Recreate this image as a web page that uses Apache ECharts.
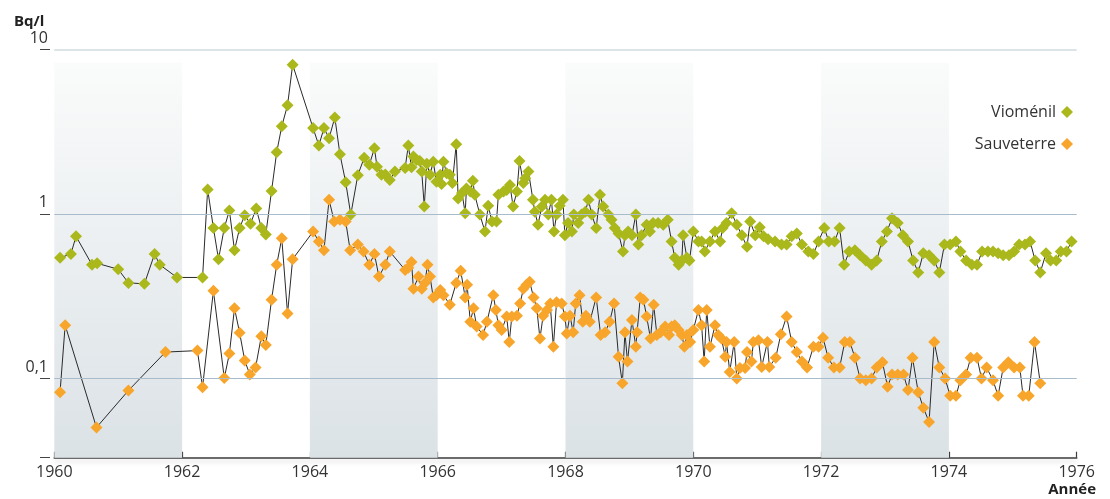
<!DOCTYPE html>
<html>
<head>
<meta charset="utf-8">
<script src="https://cdn.jsdelivr.net/npm/echarts@6/dist/echarts.min.js"></script>
<style>
  html, body { margin: 0; padding: 0; background: #fff; }
  #chart { width: 1110px; height: 499px; }
</style>
</head>
<body>
<div id="chart"></div>
<script>
// 年份刻度
var yearTicks = [1960, 1962, 1964, 1966, 1968, 1970, 1972, 1974, 1976];
var yTickLabels = ['0,1', '1', '10'];
var yTickValues = [0.1, 1, 10];

// Vioménil
var vioYears = [1960.09,1960.26,1960.34,1960.59,1960.67,1961.00,1961.16,1961.41,1961.57,1961.65,
  1961.92,1962.32,1962.40,1962.49,1962.57,1962.66,1962.74,1962.82,1962.90,1962.98,
  1963.07,1963.16,1963.24,1963.31,1963.40,1963.48,1963.56,1963.65,1963.73,1964.05,
  1964.14,1964.22,1964.30,1964.39,1964.47,1964.56,1964.64,1964.75,1964.85,1964.93,
  1965.01,1965.05,1965.12,1965.18,1965.25,1965.33,1965.49,1965.54,1965.59,1965.62,
  1965.67,1965.72,1965.75,1965.79,1965.83,1965.88,1965.93,1965.98,1966.04,1966.06,
  1966.09,1966.14,1966.19,1966.23,1966.29,1966.32,1966.38,1966.43,1966.45,1966.51,
  1966.55,1966.58,1966.66,1966.74,1966.79,1966.85,1966.92,1966.95,1967.03,1967.08,
  1967.13,1967.18,1967.24,1967.28,1967.34,1967.37,1967.42,1967.49,1967.52,1967.57,
  1967.63,1967.68,1967.73,1967.78,1967.82,1967.86,1967.91,1967.96,1967.99,1968.04,
  1968.10,1968.13,1968.20,1968.25,1968.31,1968.36,1968.41,1968.48,1968.54,1968.59,
  1968.67,1968.72,1968.77,1968.83,1968.90,1968.93,1968.98,1969.04,1969.10,1969.14,
  1969.19,1969.27,1969.32,1969.37,1969.45,1969.53,1969.60,1969.66,1969.71,1969.77,
  1969.82,1969.84,1969.90,1969.94,1970.00,1970.08,1970.13,1970.18,1970.26,1970.34,
  1970.42,1970.46,1970.52,1970.60,1970.68,1970.76,1970.84,1970.89,1970.97,1971.04,
  1971.10,1971.17,1971.28,1971.38,1971.46,1971.54,1971.62,1971.70,1971.80,1971.88,
  1971.96,1972.05,1972.12,1972.21,1972.29,1972.36,1972.44,1972.53,1972.61,1972.70,
  1972.79,1972.87,1972.95,1973.03,1973.11,1973.20,1973.28,1973.36,1973.44,1973.52,
  1973.60,1973.69,1973.77,1973.85,1973.93,1974.02,1974.11,1974.18,1974.27,1974.36,
  1974.44,1974.52,1974.61,1974.69,1974.77,1974.85,1974.94,1975.02,1975.10,1975.19,
  1975.27,1975.35,1975.43,1975.52,1975.59,1975.68,1975.75,1975.84,1975.92];
var vioValues = [0.54,0.57,0.73,0.49,0.50,0.46,0.38,0.375,0.57,0.49,
  0.41,0.41,1.41,0.82,0.53,0.82,1.05,0.60,0.82,0.98,
  0.87,1.08,0.82,0.75,1.38,2.37,3.42,4.59,8.1,3.33,
  2.61,3.33,2.89,3.87,2.31,1.56,0.99,1.72,2.20,1.99,
  2.51,1.94,1.73,1.74,1.61,1.81,1.90,2.61,1.92,2.24,
  2.13,2.10,1.81,1.11,2.02,1.73,2.08,1.57,1.73,1.52,
  2.08,1.77,1.73,1.54,2.66,1.24,1.34,1.01,1.43,1.37,
  1.59,1.31,0.99,0.78,1.12,0.90,0.90,1.31,1.37,1.40,
  1.50,1.11,1.37,2.10,1.54,1.65,1.81,1.22,1.03,0.86,
  1.11,1.22,0.99,1.22,0.78,0.99,1.12,1.22,0.74,0.88,
  0.78,0.99,0.88,0.99,1.03,1.22,0.99,0.82,1.31,1.11,
  0.99,0.92,0.82,0.76,0.59,0.74,0.78,0.74,0.99,0.65,
  0.74,0.86,0.78,0.88,0.88,0.86,0.92,0.68,0.54,0.49,
  0.52,0.74,0.54,0.52,0.78,0.68,0.68,0.59,0.68,0.78,
  0.68,0.82,0.88,1.01,0.86,0.74,0.63,0.90,0.74,0.83,
  0.73,0.70,0.68,0.65,0.65,0.73,0.76,0.65,0.59,0.57,
  0.68,0.82,0.68,0.68,0.82,0.49,0.59,0.60,0.56,0.52,
  0.49,0.52,0.68,0.78,0.94,0.88,0.74,0.68,0.52,0.44,
  0.575,0.56,0.52,0.44,0.65,0.65,0.68,0.59,0.52,0.49,
  0.49,0.59,0.59,0.59,0.575,0.56,0.56,0.59,0.65,0.65,
  0.68,0.52,0.44,0.575,0.52,0.52,0.59,0.59,0.68];

// Sauveterre
var sauYears = [1960.09,1960.17,1960.66,1961.16,1961.74,1962.24,1962.32,1962.49,1962.66,1962.74,
  1962.82,1962.90,1962.98,1963.06,1963.15,1963.24,1963.31,1963.40,1963.48,1963.56,
  1963.65,1963.73,1964.05,1964.14,1964.22,1964.30,1964.38,1964.47,1964.56,1964.63,
  1964.75,1964.84,1964.93,1965.01,1965.08,1965.18,1965.25,1965.49,1965.54,1965.59,
  1965.62,1965.70,1965.75,1965.80,1965.84,1965.88,1965.93,1965.98,1966.04,1966.09,
  1966.19,1966.29,1966.36,1966.43,1966.46,1966.51,1966.56,1966.61,1966.71,1966.77,
  1966.87,1966.91,1966.95,1967.00,1967.08,1967.12,1967.16,1967.24,1967.29,1967.34,
  1967.39,1967.44,1967.50,1967.55,1967.60,1967.65,1967.71,1967.76,1967.81,1967.86,
  1967.94,1967.99,1968.02,1968.07,1968.12,1968.16,1968.22,1968.27,1968.32,1968.38,
  1968.48,1968.55,1968.62,1968.69,1968.76,1968.83,1968.89,1968.93,1968.97,1969.04,
  1969.10,1969.12,1969.17,1969.22,1969.27,1969.33,1969.38,1969.43,1969.49,1969.56,
  1969.62,1969.66,1969.71,1969.77,1969.82,1969.86,1969.90,1969.95,1970.00,1970.08,
  1970.13,1970.17,1970.21,1970.26,1970.34,1970.39,1970.44,1970.50,1970.52,1970.57,
  1970.64,1970.68,1970.73,1970.81,1970.84,1970.91,1970.94,1971.02,1971.07,1971.16,
  1971.19,1971.29,1971.37,1971.46,1971.54,1971.62,1971.70,1971.78,1971.88,1971.96,
  1972.03,1972.11,1972.20,1972.29,1972.37,1972.45,1972.53,1972.61,1972.70,1972.79,
  1972.87,1972.96,1973.04,1973.11,1973.20,1973.29,1973.36,1973.43,1973.52,1973.60,
  1973.69,1973.77,1973.85,1973.94,1974.02,1974.11,1974.18,1974.27,1974.34,1974.44,
  1974.51,1974.59,1974.69,1974.77,1974.85,1974.93,1975.02,1975.11,1975.16,1975.25,
  1975.34,1975.43];
var sauValues = [0.082,0.21,0.050,0.084,0.144,0.147,0.088,0.34,0.10,0.141,
  0.266,0.189,0.128,0.105,0.116,0.18,0.159,0.30,0.49,0.71,
  0.247,0.53,0.78,0.68,0.60,1.22,0.90,0.92,0.90,0.60,
  0.65,0.59,0.49,0.57,0.415,0.49,0.59,0.456,0.47,0.51,
  0.35,0.415,0.35,0.38,0.49,0.415,0.31,0.32,0.344,0.32,
  0.28,0.38,0.45,0.31,0.37,0.22,0.266,0.206,0.183,0.22,
  0.32,0.26,0.21,0.196,0.237,0.166,0.237,0.24,0.285,0.35,
  0.37,0.386,0.31,0.266,0.174,0.24,0.26,0.285,0.155,0.29,
  0.285,0.237,0.187,0.24,0.19,0.285,0.32,0.22,0.24,0.22,
  0.31,0.183,0.19,0.22,0.285,0.135,0.093,0.19,0.126,0.226,
  0.155,0.19,0.31,0.30,0.237,0.174,0.28,0.183,0.19,0.206,
  0.183,0.206,0.21,0.196,0.183,0.155,0.183,0.166,0.196,0.26,
  0.21,0.126,0.26,0.155,0.21,0.183,0.174,0.135,0.166,0.109,
  0.166,0.0995,0.115,0.115,0.144,0.126,0.166,0.17,0.117,0.166,
  0.117,0.133,0.185,0.237,0.166,0.144,0.126,0.116,0.155,0.155,
  0.176,0.133,0.116,0.116,0.166,0.166,0.133,0.0995,0.097,0.0995,
  0.116,0.125,0.0885,0.105,0.105,0.105,0.0845,0.133,0.082,0.066,
  0.054,0.166,0.116,0.0995,0.078,0.078,0.097,0.105,0.133,0.133,
  0.0995,0.116,0.097,0.078,0.116,0.125,0.116,0.116,0.078,0.078,
  0.166,0.093];

// 阴影年份段
var bands = [[1960, 1962], [1964, 1966], [1968, 1970], [1972, 1974]];

var yMin = -1.485;   // log10 of axis bottom (~0.033)
var yMax = 1;        // log10(10)
var bandTop = 0.92;  // shaded bands stop a little under 10

function toLog(years, values) {
  return years.map(function (y, i) { return [y, Math.log10(values[i])]; });
}

var font = '"Open Sans", "Noto Sans", sans-serif';
var chartDom = document.getElementById('chart');
var myChart = echarts.init(chartDom, null, { renderer: 'canvas' });

var option = {
  animation: false,
  backgroundColor: '#fff',
  textStyle: { fontFamily: font },
  grid: { left: 54.3, right: 33.3, top: 49.7, bottom: 41.3, containLabel: false },
  legend: {
    data: ['Vioménil', 'Sauveterre'],
    orient: 'vertical',
    right: 32,
    top: 97,
    align: 'right',
    icon: 'diamond',
    itemWidth: 12,
    itemHeight: 12,
    itemGap: 12,
    textStyle: { fontSize: 16, color: '#333', fontFamily: font, lineHeight: 20 }
  },
  xAxis: {
    type: 'value',
    min: yearTicks[0],
    max: yearTicks[yearTicks.length - 1],
    interval: 2,
    splitLine: { show: false },
    axisLine: {
      onZero: false,
      lineStyle: { color: '#3c3c3c', width: 1.6, shadowColor: 'rgba(0,0,0,0.18)', shadowBlur: 5, shadowOffsetY: 3 }
    },
    axisTick: { inside: true, length: 6, lineStyle: { color: '#3c3c3c', width: 1.2 } },
    axisLabel: {
      fontSize: 16, color: '#333', margin: 7, fontFamily: font,
      formatter: function (v) { return String(v); }
    }
  },
  yAxis: {
    type: 'value',
    min: yMin,
    max: yMax,
    offset: 4.3,
    axisLine: { show: false },
    splitLine: { show: false },
    axisTick: {
      show: true,
      length: 10,
      customValues: [yMin].concat(yTickValues.map(Math.log10)),
      lineStyle: { color: '#444', width: 1 }
    },
    axisLabel: {
      customValues: yTickValues.map(Math.log10),
      fontSize: 16,
      color: '#333',
      margin: 2,
      verticalAlign: 'bottom',
      padding: [0, 0, 3, 0],
      fontFamily: font,
      formatter: function (v) {
        var i = yTickValues.map(Math.log10).findIndex(function (t) { return Math.abs(t - v) < 1e-6; });
        return i >= 0 ? yTickLabels[i] : '';
      }
    }
  },
  graphic: [
    { type: 'text', left: 14, top: 14, style: { text: 'Bq/l', font: 'bold 15px ' + font, fill: '#222' } },
    { type: 'text', right: 14, top: 482, style: { text: 'Année', font: 'bold 15px ' + font, fill: '#222' } }
  ],
  series: [
    {
      name: 'bands',
      type: 'line',
      data: [],
      silent: true,
      z: 0,
      markArea: {
        silent: true,
        itemStyle: {
          color: {
            type: 'linear', x: 0, y: 0, x2: 0, y2: 1,
            colorStops: [{ offset: 0, color: '#fafbfb' }, { offset: 1, color: '#dbe2e6' }]
          }
        },
        data: bands.map(function (b) {
          return [{ xAxis: b[0], yAxis: bandTop }, { xAxis: b[1], yAxis: yMin }];
        })
      },
      markLine: {
        silent: true,
        symbol: 'none',
        label: { show: false },
        data: [
          { yAxis: Math.log10(10), lineStyle: { color: '#d2dbe1', width: 1.5, type: 'solid' } },
          { yAxis: Math.log10(1), lineStyle: { color: '#a9bccb', width: 1, type: 'solid' } },
          { yAxis: Math.log10(0.1), lineStyle: { color: '#a9bccb', width: 1, type: 'solid' } }
        ]
      }
    },
    {
      name: 'Vioménil',
      type: 'line',
      z: 3,
      data: toLog(vioYears, vioValues),
      symbol: 'diamond',
      symbolSize: 12,
      showAllSymbol: true,
      itemStyle: { color: '#aab81c' },
      lineStyle: { color: '#2a2a2a', width: 1 }
    },
    {
      name: 'Sauveterre',
      type: 'line',
      z: 3,
      data: toLog(sauYears, sauValues),
      symbol: 'diamond',
      symbolSize: 12,
      showAllSymbol: true,
      itemStyle: { color: '#f8a52c' },
      lineStyle: { color: '#2a2a2a', width: 1 }
    }
  ]
};

option && myChart.setOption(option);
</script>
</body>
</html>
